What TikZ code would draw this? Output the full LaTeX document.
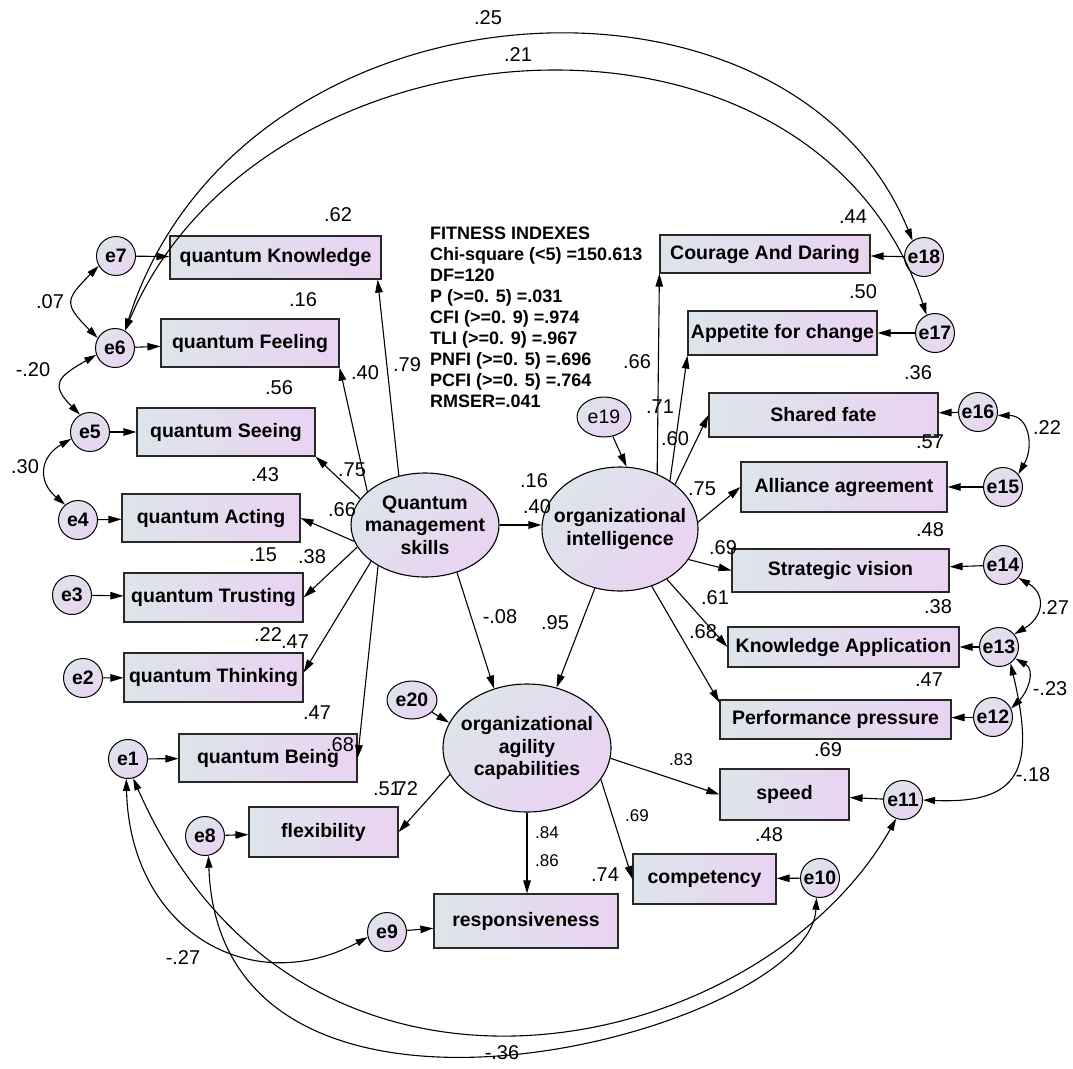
\documentclass[tikz,border=0pt]{standalone}
\usepackage{fontspec}
\setmainfont{Liberation Sans}
\usetikzlibrary{arrows.meta,shapes.geometric,calc}
\definecolor{shadeL}{RGB}{221,229,234}
\definecolor{shadeR}{RGB}{234,211,242}
\definecolor{edgegray}{RGB}{40,40,40}
\begin{document}
\begin{tikzpicture}[x=1pt,y=1pt,
  box/.style={rectangle, draw=edgegray, line width=1.2pt, left color=shadeL, right color=shadeR,
    inner sep=0pt, font=\fontsize{19.5}{22}\selectfont\bfseries},
  errc/.style={circle, draw=black, line width=1pt, left color=shadeL, right color=shadeR, shading angle=45,
    minimum size=39pt, inner sep=0pt, font=\fontsize{19.5}{20}\selectfont\bfseries},
  erre/.style={ellipse, draw=black, line width=1pt, left color=shadeL, right color=shadeR, shading angle=45,
    inner sep=0pt},
  latent/.style={ellipse, draw=black, line width=1.1pt, left color=shadeL, right color=shadeR, shading angle=45,
    inner sep=0pt},
  lattext/.style={align=center, inner sep=0pt, font=\fontsize{19.5}{22.5}\selectfont\bfseries},
  lab/.style={inner sep=0pt, font=\fontsize{20}{21}\selectfont},
  slab/.style={inner sep=0pt, font=\fontsize{17}{18}\selectfont},
  fitline/.style={anchor=base west, inner sep=0pt, font=\fontsize{18}{21}\selectfont\bfseries},
  arr/.style={-{Triangle[length=13pt,width=7.5pt]}, line width=1.1pt},
  cov/.style={{Triangle[length=12pt,width=7pt]}-{Triangle[length=12pt,width=7pt]}, line width=1.1pt}]

\useasboundingbox (0,0) rectangle (1073,-1068);

% ---- observed indicators of quantum management skills
\node[box, minimum width=211pt, minimum height=43pt] (qK) at (275.5,-257.5) {quantum Knowledge};
\node[box, minimum width=178pt, minimum height=48pt] (qF) at (250,-343) {quantum Feeling};
\node[box, minimum width=178pt, minimum height=48pt] (qS) at (226,-432) {quantum Seeing};
\node[box, minimum width=178pt, minimum height=48pt] (qA) at (211,-518) {quantum Acting};
\node[box, minimum width=179pt, minimum height=49pt] (qT) at (213.5,-597.5) {quantum Trusting};
\node[box, minimum width=179pt, minimum height=49pt] (qTh) at (213.5,-677.5) {quantum Thinking};
\node[box, minimum width=178pt, minimum height=48pt] (qB) at (268,-758) {quantum Being};

% ---- observed indicators of organizational agility capabilities
\node[box, minimum width=149pt, minimum height=50pt] (flex) at (323.5,-832) {flexibility};
\node[box, minimum width=184pt, minimum height=54pt] (resp) at (526,-921) {responsiveness};
\node[box, minimum width=143pt, minimum height=50pt] (comp) at (704.5,-879) {competency};
\node[box, minimum width=129pt, minimum height=51pt] (speed) at (784.5,-794.5) {speed};

% ---- observed indicators of organizational intelligence
\node[box, minimum width=231pt, minimum height=39pt] (PP) at (835.5,-719.5) {Performance pressure};
\node[box, minimum width=231pt, minimum height=40pt] (KA) at (843.5,-647) {Knowledge Application};
\node[box, minimum width=217pt, minimum height=43pt] (SV) at (840.5,-570.5) {Strategic vision};
\node[box, minimum width=206pt, minimum height=50pt] (AA) at (844,-487) {Alliance agreement};
\node[box, minimum width=229pt, minimum height=44pt] (SF) at (823.5,-415) {Shared fate};
\node[box, minimum width=189pt, minimum height=44pt] (AfC) at (782.5,-333) {Appetite for change};
\node[box, minimum width=210pt, minimum height=38pt] (CaD) at (765,-254) {Courage And Daring};

% ---- error terms
\node[errc] (e7) at (116,-256) {e7};
\node[errc] (e6) at (115,-348) {e6};
\node[errc] (e5) at (90,-432) {e5};
\node[errc] (e4) at (78,-520) {e4};
\node[errc] (e3) at (72,-595) {e3};
\node[errc] (e2) at (83,-678) {e2};
\node[errc] (e1) at (128,-759) {e1};
\node[errc] (e8) at (205,-836) {e8};
\node[errc] (e9) at (387,-932) {e9};
\node[errc] (e10) at (820,-878) {e10};
\node[errc] (e11) at (903,-800) {e11};
\node[errc] (e12) at (993,-717) {e12};
\node[errc] (e13) at (999,-647) {e13};
\node[errc] (e14) at (1003,-565) {e14};
\node[errc] (e15) at (1003,-487) {e15};
\node[errc] (e16) at (978,-412) {e16};
\node[errc] (e17) at (935,-333) {e17};
\node[errc] (e18) at (924,-257) {e18};
\node[erre, minimum width=54pt, minimum height=40pt, font=\fontsize{19.5}{20}\selectfont] (e19) at (604,-417) {e19};
\node[erre, minimum width=50pt, minimum height=38pt, font=\fontsize{19.5}{20}\selectfont\bfseries] (e20) at (412,-700) {e20};

% ---- latent variables
\node[latent, minimum width=148pt, minimum height=104pt] (QMS) at (425,-525) {};
\node[lattext] (QMSt) at (QMS.center) {Quantum\\management\\skills};
\node[latent, minimum width=156pt, minimum height=124pt] (OI) at (620,-529) {};
\node[lattext] (OIt) at (OI.center) {organizational\\intelligence};
\node[latent, minimum width=168pt, minimum height=128pt] (OAC) at (527,-748) {};
\node[lattext] (OACt) at (OAC.center) {organizational\\agility\\capabilities};

% ---- fit indexes
\foreach \t [count=\i] in {FITNESS INDEXES, Chi-square (<5) =150.613, DF=120, P (>=0. 5) =.031,
  CFI (>=0. 9) =.974, TLI (>=0. 9) =.967, PNFI (>=0. 5) =.696, PCFI (>=0. 5) =.764, RMSER=.041}
  \node[fitline] (fit\i) at (430,{-239-21*(\i-1)}) {\t};

% ---- structural and measurement paths
\draw[arr] (QMS.118) -- ([xshift=-4pt]qK.south east);
\draw[arr] (QMS.150) -- (qF.south east);
\draw[arr] (QMS.158) -- (qS.south east);
\draw[arr] (QMS.193) -- (qA.east);
\draw[arr] (QMS.198) -- (qT.east);
\draw[arr] (QMS.214) -- ([yshift=5pt]qTh.east);
\draw[arr] (QMS.221) -- (qB.east);
\draw[arr] (QMS.east) -- (QMS.east -| OI.west);
\draw[arr] (QMS.-56) -- (OAC.119);
\draw[arr] (OI.247) -- (OAC.64);
\draw[arr] (e19) -- (OI.84);
\draw[arr] (e20) -- (OAC.162);
\draw[arr] (OI.56) -- (CaD.south west);
\draw[arr] (OI.44) -- (AfC.south west);
\draw[arr] (OI.39) -- (SF.west);
\draw[arr] (OI.5) -- (AA.west);
\draw[arr] (OI.-24) -- (SV.west);
\draw[arr] (OI.-47) -- (KA.west);
\draw[arr] (OI.-61) -- ([yshift=-3pt]PP.north west);
\draw[arr] (OAC.199) -- (flex.east);
\draw[arr] (OAC.south) -- (OAC.south |- resp.north);
\draw[arr] (OAC.-23) -- (comp.west);
\draw[arr] (OAC.-7) -- (speed.west);

% ---- error paths
\foreach \a/\b in {e7/qK, e6/qF, e5/qS, e4/qA, e3/qT, e2/qTh, e1/qB, e8/flex, e9/resp,
  e10/comp, e11/speed, e12/PP, e13/KA, e14/SV, e15/AA, e16/SF, e17/AfC, e18/CaD}
  \draw[arr] (\a) -- (\b);

% ---- error covariances
\draw[cov] (e7.210) to[out=225, in=135, looseness=1.7] (e6.150);
\draw[cov] (e6.200) to[out=210, in=135, looseness=1.8] (e5.120);
\draw[cov] (e5.200) to[out=210, in=140, looseness=1.4] (e4.130);
\draw[cov] (e16.-10) to[out=0, in=60, looseness=1.3] (e15.40);
\draw[cov] (e14.-40) to[out=-30, in=30, looseness=1.5] (e13.40);
\draw[cov] (e12.25) to[out=45, in=-30, looseness=1.2] (e13.-35);
\draw[cov] (e13.-55) .. controls (1036,-770) and (1020,-804) .. (e11.east);
\draw[cov] (e1.-95) .. controls (130,-930) and (250,-1000) .. (e9.195);
\draw[cov] (e1.-75) .. controls (302,-1162) and (760,-1060) .. (e11.-110);
\draw[cov] (e8.-80) .. controls (220,-1190) and (810,-1030) .. (e10.-100);
\draw[cov] (e6.60) .. controls (240,30) and (790,60) .. (e18.125);
\draw[cov] (e6.60) .. controls (260,-10) and (812,30) .. (e17.115);

% ---- estimates
\node[lab] (n01) at (488,-18) {.25};
\node[lab] (n02) at (518,-55) {.21};
\node[lab] (n03) at (338,-215) {.62};
\node[lab] (n04) at (303,-300) {.16};
\node[lab] (n05) at (279,-388) {.56};
\node[lab] (n06) at (265,-475) {.43};
\node[lab] (n07) at (263,-555) {.15};
\node[lab] (n08) at (268,-635) {.22};
\node[lab] (n09) at (317,-713) {.47};
\node[lab] (n10) at (50,-302) {.07};
\node[lab] (n11) at (33,-370) {-.20};
\node[lab] (n12) at (25,-467) {.30};
\node[lab] (n13) at (407,-365) {.79};
\node[lab] (n14) at (365,-373) {.40};
\node[lab] (n15) at (352,-470) {.75};
\node[lab] (n16) at (342,-510) {.66};
\node[lab] (n17) at (312,-557) {.38};
\node[lab] (n18) at (295,-642) {.47};
\node[lab] (n19) at (340,-745) {.68};
\node[lab] (n20) at (534,-481) {.16};
\node[lab] (n21) at (537,-507) {.40};
\node[lab] (n22) at (500,-617) {-.08};
\node[lab] (n23) at (555,-623) {.95};
\node[lab] (n24) at (387,-789) {.51};
\node[lab] (n25) at (404,-789) {.72};
\node[lab] (n26) at (605,-875) {.74};
\node[lab] (n27) at (828,-750) {.69};
\node[lab] (n28) at (769,-835) {.48};
\node[lab] (n29) at (183,-958) {-.27};
\node[lab] (n30) at (502,-1053) {-.36};
\node[lab] (n31) at (637,-362) {.66};
\node[lab] (n32) at (660,-407) {.71};
\node[lab] (n33) at (675,-439) {.60};
\node[lab] (n34) at (853,-217) {.44};
\node[lab] (n35) at (863,-292) {.50};
\node[lab] (n36) at (918,-373) {.36};
\node[lab] (n37) at (930,-442) {.57};
\node[lab] (n38) at (1047,-428) {.22};
\node[lab] (n39) at (702,-489) {.75};
\node[lab] (n40) at (930,-530) {.48};
\node[lab] (n41) at (723,-548) {.69};
\node[lab] (n42) at (1055,-608) {.27};
\node[lab] (n43) at (715,-598) {.61};
\node[lab] (n44) at (938,-607) {.38};
\node[lab] (n45) at (703,-632) {.68};
\node[lab] (n46) at (929,-680) {.47};
\node[lab] (n47) at (1050,-689) {-.23};
\node[lab] (n48) at (1033,-775) {-.18};
\node[slab] (n49) at (547,-833) {.84};
\node[slab] (n50) at (547,-861) {.86};
\node[slab] (n51) at (637,-816) {.69};
\node[slab] (n52) at (681,-760) {.83};
\end{tikzpicture}
\end{document}
